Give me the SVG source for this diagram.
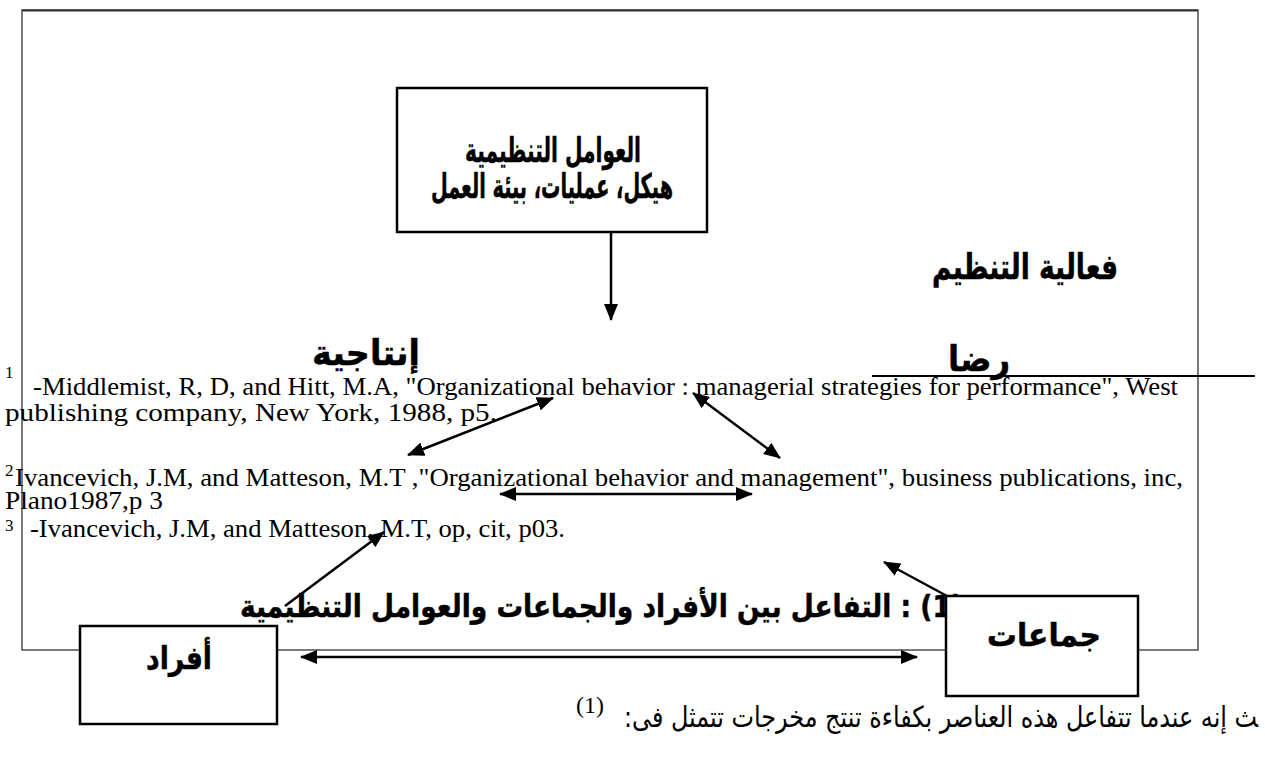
<svg xmlns="http://www.w3.org/2000/svg" width="1265" height="757" viewBox="0 0 1265 757">
<defs>
<marker id="ah" markerUnits="userSpaceOnUse" markerWidth="18" markerHeight="14" refX="16" refY="7" orient="auto-start-reverse">
<path d="M0,0 L17,7 L0,14 z" fill="#000"/>
</marker>
<style>
.ar{font-family:"DejaVu Sans",sans-serif;font-weight:bold;fill:#000;stroke:#000;stroke-width:0.5}
.arr{font-family:"DejaVu Sans",sans-serif;fill:#000}
.fn{font-family:"Liberation Serif",serif;font-size:25px;fill:#000}
.sup{font-family:"Liberation Serif",serif;font-size:17px;fill:#000}
.box{fill:#fff;stroke:#000;stroke-width:2.5}
.con{stroke:#000;stroke-width:2.5;fill:none}
</style>
</defs>
<rect x="22" y="10" width="1176" height="640" fill="none" stroke="#333" stroke-width="1.3"/>
<line x1="22" y1="10.5" x2="1198" y2="10.5" stroke="#333" stroke-width="2"/>
<line x1="872" y1="376" x2="1255" y2="376" stroke="#000" stroke-width="2"/>

<g id="footnotes">
<text class="sup" x="5" y="378">1</text>
<text class="fn" x="33" y="395" textLength="1145" lengthAdjust="spacingAndGlyphs">-Middlemist, R, D, and Hitt, M.A, "Organizational behavior : managerial strategies for performance", West</text>
<text class="fn" x="5" y="421" textLength="492" lengthAdjust="spacingAndGlyphs">publishing company, New York, 1988, p5.</text>
<text class="sup" x="5" y="476">2</text>
<text class="fn" x="15" y="486" textLength="1168" lengthAdjust="spacingAndGlyphs">Ivancevich, J.M, and Matteson, M.T ,"Organizational behavior and management", business publications, inc,</text>
<text class="fn" x="5" y="509" textLength="158" lengthAdjust="spacingAndGlyphs">Plano1987,p 3</text>
<text class="sup" x="5" y="531">3</text>
<text class="fn" x="30" y="537" textLength="535" lengthAdjust="spacingAndGlyphs">-Ivancevich, J.M, and Matteson, M.T, op, cit, p03.</text>
</g>

<g id="title">
<text class="ar" font-size="31" x="963" y="617" direction="rtl" text-anchor="start" textLength="723" lengthAdjust="spacingAndGlyphs">(1) : التفاعل بين الأفراد والجماعات والعوامل التنظيمية</text>
</g>

<g id="node-factors">
<rect class="box" x="397" y="88" width="310" height="144" stroke-width="3"/>
<text class="ar" font-size="34" x="553" y="162" text-anchor="middle" textLength="176" lengthAdjust="spacingAndGlyphs">العوامل التنظيمية</text>
<text class="ar" font-size="34" x="552" y="198" text-anchor="middle" textLength="242" lengthAdjust="spacingAndGlyphs">هيكل، عمليات، بيئة العمل</text>
</g>

<g id="node-effectiveness">
<text class="ar" font-size="35" x="1025" y="279" text-anchor="middle" textLength="186" lengthAdjust="spacingAndGlyphs">فعالية التنظيم</text>
</g>
<g id="node-productivity">
<text class="ar" font-size="35" x="366" y="365" text-anchor="middle" textLength="108" lengthAdjust="spacingAndGlyphs">إنتاجية</text>
</g>
<g id="node-satisfaction">
<text class="ar" font-size="35" x="979" y="371" text-anchor="middle" textLength="62" lengthAdjust="spacingAndGlyphs">رضا</text>
</g>

<g id="connectors">
<line class="con" x1="611" y1="233" x2="611" y2="320" marker-end="url(#ah)"/>
<line class="con" x1="408" y1="455" x2="553" y2="398" marker-start="url(#ah)" marker-end="url(#ah)"/>
<line class="con" x1="693" y1="393" x2="780" y2="458" marker-start="url(#ah)" marker-end="url(#ah)"/>
<line class="con" x1="500" y1="494" x2="752" y2="494" marker-start="url(#ah)" marker-end="url(#ah)"/>
<line class="con" x1="285" y1="606" x2="384" y2="532" marker-end="url(#ah)"/>
<line class="con" x1="947" y1="596" x2="884" y2="562" marker-end="url(#ah)"/>
<line class="con" x1="301" y1="657" x2="917" y2="657" stroke-width="3" marker-start="url(#ah)" marker-end="url(#ah)"/>
</g>

<g id="node-individuals">
<rect class="box" x="80" y="626" width="197" height="98"/>
<text class="ar" font-size="32" x="179" y="669" text-anchor="middle" textLength="66" lengthAdjust="spacingAndGlyphs">أفراد</text>
</g>
<g id="node-groups">
<rect class="box" x="946" y="596" width="192" height="100"/>
<text class="ar" font-size="32" x="1044" y="646" text-anchor="middle" textLength="114" lengthAdjust="spacingAndGlyphs">جماعات</text>
</g>

<g id="body-text">
<text class="arr" font-size="29" x="1258" y="727" direction="rtl" text-anchor="start" textLength="634" lengthAdjust="spacingAndGlyphs">&#x200D;ث إنه عندما تتفاعل هذه العناصر بكفاءة تنتج مخرجات تتمثل فى:</text>
<text class="sup" style="font-size:24px" x="576" y="713">(1)</text>
</g>
</svg>
